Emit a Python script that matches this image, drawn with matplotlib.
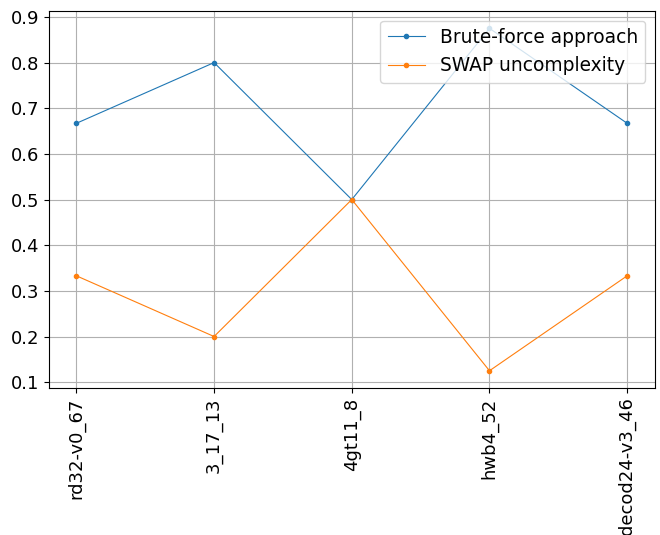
import matplotlib
matplotlib.use("Agg")
import matplotlib.pyplot as plt
from matplotlib.ticker import MultipleLocator

# Benchmarks and ratio values
circuits = ["rd32-v0_67", "3_17_13", "4gt11_8", "hwb4_52", "decod24-v3_46"]
brute_force = [0.667, 0.8, 0.5, 0.875, 0.667]
swap_uncomplexity = [0.333, 0.2, 0.5, 0.125, 0.333]

plt.rcParams['font.size'] = 13

fig, ax = plt.subplots(figsize=(6.6, 5.35), dpi=100)
ax.plot(circuits, brute_force, marker='.', linewidth=0.8, markersize=6, label='Brute-force approach')
ax.plot(circuits, swap_uncomplexity, marker='.', linewidth=0.8, markersize=6, label='SWAP uncomplexity')

ax.yaxis.set_major_locator(MultipleLocator(0.1))
ax.grid(True)
ax.legend(loc='upper right', fontsize=13.4)
plt.xticks(rotation=90)
plt.subplots_adjust(left=0.074, right=0.992, top=0.979, bottom=0.275)
plt.savefig("out.png")
